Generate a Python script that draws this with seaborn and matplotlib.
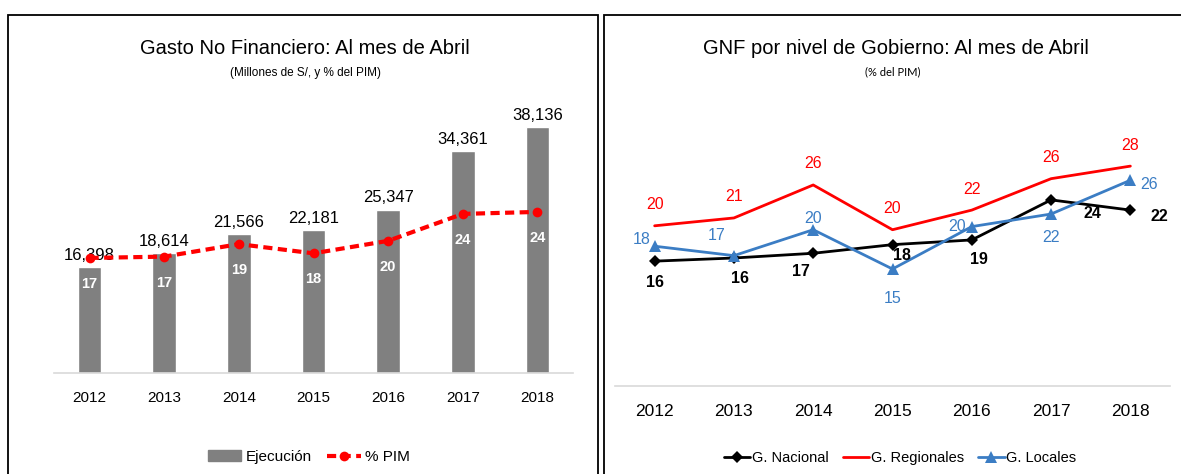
import numpy as np
import pandas as pd
import matplotlib
matplotlib.use('Agg')
import matplotlib.pyplot as plt
from matplotlib.patches import Rectangle
from matplotlib.lines import Line2D
import seaborn as sns

# ============ DATA =============
years = ['2012', '2013', '2014', '2015', '2016', '2017', '2018']
ejecucion = [16398, 18614, 21566, 22181, 25347, 34361, 38136]
pct_pim = [17.0, 17.2, 19.1, 17.7, 19.6, 23.7, 24.0]

nacional = [15.9, 16.3, 16.9, 18.0, 18.6, 23.7, 22.4]
regionales = [20.4, 21.4, 25.6, 19.9, 22.4, 26.4, 28.0]
locales = [17.8, 16.6, 19.9, 14.9, 20.3, 21.9, 26.2]

# ============ STYLE =============
sns.set_theme(style='white')
plt.rcParams['font.family'] = ['Liberation Sans', 'DejaVu Sans']
plt.rcParams['text.color'] = 'black'

GRAY = '#808080'
RED = '#ff0000'
BLUE = '#3b7dc4'

W, H = 1181, 474
fig = plt.figure(figsize=(W / 100, H / 100), dpi=100)


def box(x0, y0, x1, y1):
    # pixel box (top-down) -> figure fraction
    return [x0 / W, 1 - y1 / H, (x1 - x0) / W, (y1 - y0) / H]


def clean(ax):
    ax.set_xlabel('')
    ax.set_ylabel('')
    ax.set_yticks([])
    for s in ['left', 'right', 'top']:
        ax.spines[s].set_visible(False)
    ax.spines['bottom'].set_color('#d9d9d9')
    ax.spines['bottom'].set_linewidth(1.2)
    ax.set_facecolor('none')


# ============ LEFT PANEL =============
ax1 = fig.add_axes(box(54, 110, 573, 373))
df_left = pd.DataFrame({'anio': years, 'ejecucion': ejecucion})
sns.barplot(data=df_left, x='anio', y='ejecucion', color=GRAY, saturation=1,
            width=0.32, ax=ax1)
ax1.set_ylim(0, 40775)
ax1.bar_label(ax1.containers[0], labels=[f'{v:,}' for v in ejecucion],
              padding=3, fontsize=12, color='black')
clean(ax1)
ax1.tick_params(axis='x', length=0, pad=13, labelsize=11, colors='black')

ax1b = ax1.twinx()
xpos = np.arange(len(years))
sns.lineplot(x=xpos, y=pct_pim, ax=ax1b, color=RED, linewidth=3,
             linestyle=(0, (2.2, 1.3)), marker='o', markersize=7,
             markeredgewidth=0)
ax1b.set_ylim(-0.5, 39.5)
clean(ax1b)
ax1b.spines['bottom'].set_visible(False)
for x, v in zip(xpos, pct_pim):
    ax1b.annotate(f'{v:.0f}', (x, v), xytext=(0, -26), textcoords='offset pixels',
                  ha='center', va='center', color='white', fontsize=10.5,
                  fontweight='bold')

fig.text(305 / W, 1 - 48 / H, 'Gasto No Financiero: Al mes de Abril',
         ha='center', va='center', fontsize=14.5)
fig.text(305 / W, 1 - 73 / H, '(Millones de S/, y % del PIM)',
         ha='center', va='center', fontsize=8.5)

left_handles = [Rectangle((0, 0), 1, 1, color=GRAY),
                Line2D([], [], color=RED, lw=3, linestyle=(0, (2.2, 1.3)),
                       marker='o', markersize=7, markeredgewidth=0)]
fig.legend(left_handles, ['Ejecución', '% PIM'], loc='center',
           bbox_to_anchor=(309 / W, 1 - 457 / H), ncol=2, frameon=False,
           fontsize=11, handlelength=2.2, handletextpad=0.3, columnspacing=1.0)

# ============ RIGHT PANEL =============
ax2 = fig.add_axes(box(615, 130, 1170, 386))
sns.lineplot(x=xpos, y=nacional, ax=ax2, color='black', linewidth=2,
             marker='D', markersize=6.5, markeredgewidth=0, label='G. Nacional')
sns.lineplot(x=xpos, y=regionales, ax=ax2, color=RED, linewidth=2,
             label='G. Regionales')
sns.lineplot(x=xpos, y=locales, ax=ax2, color=BLUE, linewidth=2,
             marker='^', markersize=8, markeredgewidth=0, label='G. Locales')
ax2.set_ylim(0, 32.6)
ax2.set_xlim(-0.5, 6.5)
ax2.set_xticks(xpos)
ax2.set_xticklabels(years)
clean(ax2)
ax2.tick_params(axis='x', length=0, pad=13, labelsize=12.5, colors='black')
ax2.get_legend().remove()

# label offsets in pixels (dx, dy up)
off_reg = [(0, 21)] * 7
off_loc = [(-13, 7), (-17, 20), (0, 11), (0, -30), (-15, 0), (0, -23), (19, -4)]
off_nac = [(0, -21), (6, -20), (-12, -18), (9, -11), (7, -20), (41, -14), (29, -6)]

for vals, offs, col, wt in [(regionales, off_reg, RED, 'normal'),
                            (locales, off_loc, BLUE, 'normal'),
                            (nacional, off_nac, 'black', 'bold')]:
    for x, v, (dx, dy) in zip(xpos, vals, offs):
        ax2.annotate(f'{v:.0f}', (x, v), xytext=(dx, dy),
                     textcoords='offset pixels', ha='center', va='center',
                     color=col, fontsize=11.5, fontweight=wt)

fig.text(896 / W, 1 - 48 / H, 'GNF por nivel de Gobierno: Al mes de Abril',
         ha='center', va='center', fontsize=14.5)
fig.text(893 / W, 1 - 72 / H, '(% del PIM)', ha='center', va='center',
         fontsize=8, fontfamily=['Lato', 'DejaVu Sans'])

right_handles = [Line2D([], [], color='black', lw=2, marker='D', markersize=6.5,
                        markeredgewidth=0),
                 Line2D([], [], color=RED, lw=2),
                 Line2D([], [], color=BLUE, lw=2, marker='^', markersize=8,
                        markeredgewidth=0)]
fig.legend(right_handles, ['G. Nacional', 'G. Regionales', 'G. Locales'],
           loc='center', bbox_to_anchor=(900 / W, 1 - 458 / H), ncol=3,
           frameon=False, fontsize=10.5, handlelength=1.8, handletextpad=0.1,
           columnspacing=1.0)

# ============ PANEL BORDERS =============
fig.add_artist(Rectangle((8 / W, -0.05), 590 / W, 1.05 - 15 / H,
                         transform=fig.transFigure, fill=False,
                         ec='black', lw=1.3))
fig.add_artist(Rectangle((604 / W, -0.05), 0.6, 1.05 - 15 / H,
                         transform=fig.transFigure, fill=False,
                         ec='black', lw=1.3))

fig.savefig('out.png', dpi=100)
